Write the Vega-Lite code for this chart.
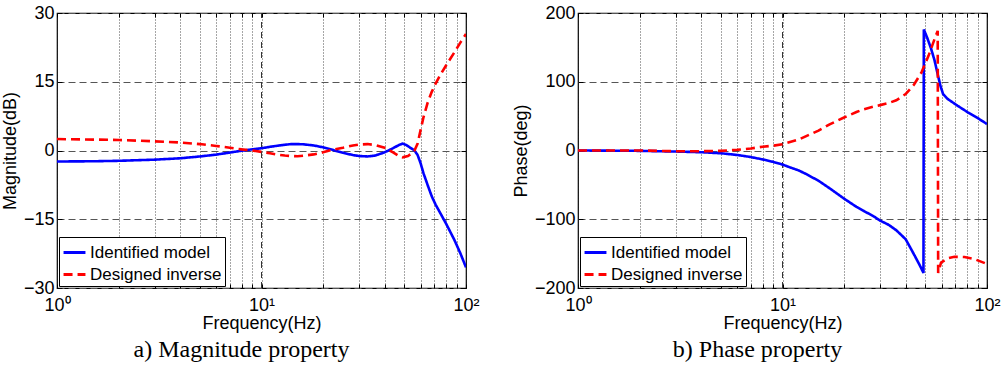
{
  "$schema": "https://vega.github.io/schema/vega-lite/v6.json",
  "background": "white",
  "padding": {"left": 0, "right": 6, "top": 3, "bottom": 0},
  "bounds": "flush",
  "spacing": 112,
  "config": {
    "font": "Liberation Sans",
    "view": {"stroke": "black", "strokeWidth": 1.2},
    "axis": {
      "domain": false,
      "labelColor": "black",
      "titleColor": "black",
      "labelFontSize": 18,
      "titleFontSize": 18,
      "titleFontWeight": "normal",
      "tickColor": "black",
      "tickSize": -5,
      "labelPadding": 8
    },
    "legend": {
      "orient": "bottom-left",
      "offset": 2,
      "strokeColor": "black",
      "fillColor": "white",
      "padding": 3,
      "title": null,
      "labelFontSize": 17,
      "labelColor": "black",
      "labelOffset": 3,
      "symbolType": "stroke",
      "symbolSize": 480,
      "symbolStrokeWidth": 3,
      "rowPadding": 1
    },
    "title": {
      "orient": "bottom",
      "font": "Liberation Serif",
      "fontSize": 24,
      "fontWeight": "normal",
      "color": "black",
      "offset": 6
    }
  },
  "datasets": {
    "magnitude": [
      {"f": 1, "v": -2.4, "series": "Identified model"},
      {"f": 1.5, "v": -2.35, "series": "Identified model"},
      {"f": 2, "v": -2.25, "series": "Identified model"},
      {"f": 3, "v": -2.0, "series": "Identified model"},
      {"f": 4, "v": -1.7, "series": "Identified model"},
      {"f": 5, "v": -1.3, "series": "Identified model"},
      {"f": 6, "v": -0.9, "series": "Identified model"},
      {"f": 7, "v": -0.45, "series": "Identified model"},
      {"f": 8, "v": -0.05, "series": "Identified model"},
      {"f": 9, "v": 0.25, "series": "Identified model"},
      {"f": 10, "v": 0.5, "series": "Identified model"},
      {"f": 11, "v": 0.8, "series": "Identified model"},
      {"f": 12, "v": 1.05, "series": "Identified model"},
      {"f": 13, "v": 1.25, "series": "Identified model"},
      {"f": 14, "v": 1.4, "series": "Identified model"},
      {"f": 15, "v": 1.4, "series": "Identified model"},
      {"f": 16, "v": 1.35, "series": "Identified model"},
      {"f": 18, "v": 1.1, "series": "Identified model"},
      {"f": 20, "v": 0.7, "series": "Identified model"},
      {"f": 22, "v": 0.2, "series": "Identified model"},
      {"f": 25, "v": -0.5, "series": "Identified model"},
      {"f": 28, "v": -1.0, "series": "Identified model"},
      {"f": 30, "v": -1.2, "series": "Identified model"},
      {"f": 33, "v": -1.3, "series": "Identified model"},
      {"f": 36, "v": -1.1, "series": "Identified model"},
      {"f": 40, "v": -0.4, "series": "Identified model"},
      {"f": 44, "v": 0.5, "series": "Identified model"},
      {"f": 47, "v": 1.2, "series": "Identified model"},
      {"f": 49, "v": 1.5, "series": "Identified model"},
      {"f": 51, "v": 1.2, "series": "Identified model"},
      {"f": 53, "v": 0.7, "series": "Identified model"},
      {"f": 56, "v": 0.0, "series": "Identified model"},
      {"f": 58, "v": -1.0, "series": "Identified model"},
      {"f": 60, "v": -2.8, "series": "Identified model"},
      {"f": 62, "v": -5.0, "series": "Identified model"},
      {"f": 65, "v": -7.6, "series": "Identified model"},
      {"f": 68, "v": -10.0, "series": "Identified model"},
      {"f": 71, "v": -11.8, "series": "Identified model"},
      {"f": 75.6, "v": -14.0, "series": "Identified model"},
      {"f": 80, "v": -16.0, "series": "Identified model"},
      {"f": 87.7, "v": -19.5, "series": "Identified model"},
      {"f": 94, "v": -22.5, "series": "Identified model"},
      {"f": 100, "v": -25.5, "series": "Identified model"},
      {"f": 1, "v": 2.5, "series": "Designed inverse"},
      {"f": 2, "v": 2.3, "series": "Designed inverse"},
      {"f": 3, "v": 2.0, "series": "Designed inverse"},
      {"f": 4, "v": 1.75, "series": "Designed inverse"},
      {"f": 5, "v": 1.4, "series": "Designed inverse"},
      {"f": 6, "v": 1.0, "series": "Designed inverse"},
      {"f": 7, "v": 0.6, "series": "Designed inverse"},
      {"f": 8, "v": 0.25, "series": "Designed inverse"},
      {"f": 9, "v": 0.0, "series": "Designed inverse"},
      {"f": 10, "v": -0.3, "series": "Designed inverse"},
      {"f": 11, "v": -0.6, "series": "Designed inverse"},
      {"f": 12, "v": -0.9, "series": "Designed inverse"},
      {"f": 13, "v": -1.1, "series": "Designed inverse"},
      {"f": 14, "v": -1.2, "series": "Designed inverse"},
      {"f": 15, "v": -1.25, "series": "Designed inverse"},
      {"f": 16, "v": -1.15, "series": "Designed inverse"},
      {"f": 18, "v": -0.85, "series": "Designed inverse"},
      {"f": 20, "v": -0.4, "series": "Designed inverse"},
      {"f": 22, "v": 0.1, "series": "Designed inverse"},
      {"f": 25, "v": 0.6, "series": "Designed inverse"},
      {"f": 28, "v": 1.1, "series": "Designed inverse"},
      {"f": 30, "v": 1.3, "series": "Designed inverse"},
      {"f": 33, "v": 1.4, "series": "Designed inverse"},
      {"f": 36, "v": 1.2, "series": "Designed inverse"},
      {"f": 40, "v": 0.6, "series": "Designed inverse"},
      {"f": 44, "v": -0.4, "series": "Designed inverse"},
      {"f": 47, "v": -1.2, "series": "Designed inverse"},
      {"f": 49, "v": -1.5, "series": "Designed inverse"},
      {"f": 52, "v": -1.2, "series": "Designed inverse"},
      {"f": 54, "v": -0.7, "series": "Designed inverse"},
      {"f": 56, "v": 0.0, "series": "Designed inverse"},
      {"f": 58, "v": 1.5, "series": "Designed inverse"},
      {"f": 60, "v": 4.5, "series": "Designed inverse"},
      {"f": 62, "v": 7.3, "series": "Designed inverse"},
      {"f": 65, "v": 10.5, "series": "Designed inverse"},
      {"f": 68, "v": 12.8, "series": "Designed inverse"},
      {"f": 71, "v": 14.6, "series": "Designed inverse"},
      {"f": 75.6, "v": 16.8, "series": "Designed inverse"},
      {"f": 80, "v": 18.6, "series": "Designed inverse"},
      {"f": 87.7, "v": 21.4, "series": "Designed inverse"},
      {"f": 94, "v": 23.6, "series": "Designed inverse"},
      {"f": 100, "v": 25.4, "series": "Designed inverse"}
    ],
    "phase": [
      {"f": 1, "v": 0, "series": "Identified model"},
      {"f": 2, "v": -0.5, "series": "Identified model"},
      {"f": 3, "v": -1.5, "series": "Identified model"},
      {"f": 4, "v": -2.5, "series": "Identified model"},
      {"f": 5, "v": -4, "series": "Identified model"},
      {"f": 6, "v": -6.5, "series": "Identified model"},
      {"f": 7, "v": -9.5, "series": "Identified model"},
      {"f": 8, "v": -13, "series": "Identified model"},
      {"f": 9, "v": -16.5, "series": "Identified model"},
      {"f": 10, "v": -20.5, "series": "Identified model"},
      {"f": 11, "v": -25, "series": "Identified model"},
      {"f": 12, "v": -29, "series": "Identified model"},
      {"f": 13, "v": -34, "series": "Identified model"},
      {"f": 15, "v": -44, "series": "Identified model"},
      {"f": 17, "v": -55, "series": "Identified model"},
      {"f": 20, "v": -70, "series": "Identified model"},
      {"f": 23, "v": -82, "series": "Identified model"},
      {"f": 25, "v": -88, "series": "Identified model"},
      {"f": 28, "v": -96, "series": "Identified model"},
      {"f": 30, "v": -102, "series": "Identified model"},
      {"f": 33, "v": -108, "series": "Identified model"},
      {"f": 36, "v": -116, "series": "Identified model"},
      {"f": 40, "v": -129, "series": "Identified model"},
      {"f": 44.3, "v": -153, "series": "Identified model"},
      {"f": 46.9, "v": -167, "series": "Identified model"},
      {"f": 48.9, "v": -178, "series": "Identified model"},
      {"f": 49.1, "v": 176, "series": "Identified model"},
      {"f": 51, "v": 164, "series": "Identified model"},
      {"f": 53.3, "v": 148, "series": "Identified model"},
      {"f": 55.4, "v": 131, "series": "Identified model"},
      {"f": 57.4, "v": 111, "series": "Identified model"},
      {"f": 59.2, "v": 94, "series": "Identified model"},
      {"f": 61, "v": 82, "series": "Identified model"},
      {"f": 64.2, "v": 75, "series": "Identified model"},
      {"f": 71.9, "v": 65, "series": "Identified model"},
      {"f": 80.5, "v": 55.6, "series": "Identified model"},
      {"f": 90.2, "v": 47, "series": "Identified model"},
      {"f": 100, "v": 38.5, "series": "Identified model"},
      {"f": 1, "v": 0, "series": "Designed inverse"},
      {"f": 2, "v": 0, "series": "Designed inverse"},
      {"f": 3, "v": -1, "series": "Designed inverse"},
      {"f": 4, "v": -1, "series": "Designed inverse"},
      {"f": 5, "v": -0.5, "series": "Designed inverse"},
      {"f": 6, "v": 1, "series": "Designed inverse"},
      {"f": 7, "v": 3, "series": "Designed inverse"},
      {"f": 8, "v": 5.5, "series": "Designed inverse"},
      {"f": 9, "v": 7, "series": "Designed inverse"},
      {"f": 10, "v": 9, "series": "Designed inverse"},
      {"f": 12, "v": 16, "series": "Designed inverse"},
      {"f": 15, "v": 29, "series": "Designed inverse"},
      {"f": 17, "v": 38, "series": "Designed inverse"},
      {"f": 20, "v": 48, "series": "Designed inverse"},
      {"f": 23, "v": 56, "series": "Designed inverse"},
      {"f": 25, "v": 60, "series": "Designed inverse"},
      {"f": 28, "v": 64, "series": "Designed inverse"},
      {"f": 30, "v": 66, "series": "Designed inverse"},
      {"f": 33, "v": 69, "series": "Designed inverse"},
      {"f": 36, "v": 73, "series": "Designed inverse"},
      {"f": 40, "v": 82, "series": "Designed inverse"},
      {"f": 44, "v": 96, "series": "Designed inverse"},
      {"f": 47.9, "v": 114, "series": "Designed inverse"},
      {"f": 51.8, "v": 138, "series": "Designed inverse"},
      {"f": 55.4, "v": 162, "series": "Designed inverse"},
      {"f": 57.4, "v": 174, "series": "Designed inverse"},
      {"f": 57.7, "v": -178, "series": "Designed inverse"},
      {"f": 59.6, "v": -163, "series": "Designed inverse"},
      {"f": 64.2, "v": -157, "series": "Designed inverse"},
      {"f": 69.3, "v": -154.5, "series": "Designed inverse"},
      {"f": 77.6, "v": -155, "series": "Designed inverse"},
      {"f": 86.8, "v": -158, "series": "Designed inverse"},
      {"f": 100, "v": -165, "series": "Designed inverse"}
    ]
  },
  "resolve": {
    "scale": {"y": "independent"},
    "legend": {"color": "independent", "strokeDash": "independent"}
  },
  "hconcat": [
    {
      "width": 409,
      "height": 275,
      "title": {"text": "a) Magnitude property", "dx": -20},
      "data": {"name": "magnitude"},
      "layer": [
        {
          "mark": {"type": "rule", "color": "#333", "strokeWidth": 1, "strokeDash": [6, 4]},
          "encoding": {
            "x": {"datum": 10, "type": "quantitative", "scale": {"type": "log", "domain": [1, 100], "nice": false},
              "axis": {"orient": "top", "values": [1, 2, 3, 4, 5, 6, 7, 8, 9, 10, 20, 30, 40, 50, 60, 70, 80, 90, 100], "labels": false, "grid": false, "tickSize": -4, "title": null}},
            "y": {"datum": -30, "type": "quantitative", "scale": {"domain": [-30, 30], "nice": false},
              "axis": {"orient": "right", "values": [-30, -15, 0, 15, 30], "labels": false, "grid": false, "tickSize": -5, "title": null}},
            "y2": {"datum": 30}
          }
        },
        {
          "mark": {"type": "line", "strokeWidth": 2.6, "clip": true},
          "encoding": {
            "x": {"field": "f", "type": "quantitative", "title": "Frequency(Hz)",
              "scale": {"type": "log", "domain": [1, 100], "nice": false},
              "axis": {
                "orient": "bottom",
                "values": [1, 2, 3, 4, 5, 6, 7, 8, 9, 10, 20, 30, 40, 50, 60, 70, 80, 90, 100],
                "labelExpr": "datum.value == 1 ? '10⁰' : datum.value == 10 ? '10¹' : datum.value == 100 ? '10²' : ''",
                "grid": true, "gridColor": "#222", "gridDash": [1, 2], "gridWidth": 1, "gridOpacity": 0.8,
                "tickSize": -4, "labelPadding": 12, "titlePadding": 0, "labelFlush": false
              }},
            "y": {"field": "v", "type": "quantitative", "title": "Magnitude(dB)",
              "scale": {"domain": [-30, 30], "nice": false},
              "axis": {"orient": "left", "values": [-30, -15, 0, 15, 30], "grid": true, "gridColor": "#555", "gridDash": [7, 4], "gridWidth": 1, "titlePadding": 4, "labelFlush": false}},
            "color": {"field": "series", "type": "nominal", "sort": ["Identified model", "Designed inverse"],
              "scale": {"domain": ["Identified model", "Designed inverse"], "range": ["#0000ff", "#ff0000"]}},
            "strokeDash": {"field": "series", "type": "nominal", "sort": ["Identified model", "Designed inverse"],
              "scale": {"domain": ["Identified model", "Designed inverse"], "range": [[1, 0], [9, 5]]}}
          }
        }
      ],
      "resolve": {"axis": {"x": "independent", "y": "independent"}}
    },
    {
      "width": 409,
      "height": 275,
      "title": {"text": "b) Phase property", "dx": -25},
      "data": {"name": "phase"},
      "layer": [
        {
          "mark": {"type": "rule", "color": "#333", "strokeWidth": 1, "strokeDash": [6, 4]},
          "encoding": {
            "x": {"datum": 10, "type": "quantitative", "scale": {"type": "log", "domain": [1, 100], "nice": false},
              "axis": {"orient": "top", "values": [1, 2, 3, 4, 5, 6, 7, 8, 9, 10, 20, 30, 40, 50, 60, 70, 80, 90, 100], "labels": false, "grid": false, "tickSize": -4, "title": null}},
            "y": {"datum": -200, "type": "quantitative", "scale": {"domain": [-200, 200], "nice": false},
              "axis": {"orient": "right", "values": [-200, -100, 0, 100, 200], "labels": false, "grid": false, "tickSize": -5, "title": null}},
            "y2": {"datum": 200}
          }
        },
        {
          "mark": {"type": "line", "strokeWidth": 2.6, "clip": true},
          "encoding": {
            "x": {"field": "f", "type": "quantitative", "title": "Frequency(Hz)",
              "scale": {"type": "log", "domain": [1, 100], "nice": false},
              "axis": {
                "orient": "bottom",
                "values": [1, 2, 3, 4, 5, 6, 7, 8, 9, 10, 20, 30, 40, 50, 60, 70, 80, 90, 100],
                "labelExpr": "datum.value == 1 ? '10⁰' : datum.value == 10 ? '10¹' : datum.value == 100 ? '10²' : ''",
                "grid": true, "gridColor": "#222", "gridDash": [1, 2], "gridWidth": 1, "gridOpacity": 0.8,
                "tickSize": -4, "labelPadding": 12, "titlePadding": 0, "labelFlush": false
              }},
            "y": {"field": "v", "type": "quantitative", "title": "Phase(deg)",
              "scale": {"domain": [-200, 200], "nice": false},
              "axis": {"orient": "left", "values": [-200, -100, 0, 100, 200], "grid": true, "gridColor": "#555", "gridDash": [7, 4], "gridWidth": 1, "titlePadding": 4, "labelFlush": false}},
            "color": {"field": "series", "type": "nominal", "sort": ["Identified model", "Designed inverse"],
              "scale": {"domain": ["Identified model", "Designed inverse"], "range": ["#0000ff", "#ff0000"]}},
            "strokeDash": {"field": "series", "type": "nominal", "sort": ["Identified model", "Designed inverse"],
              "scale": {"domain": ["Identified model", "Designed inverse"], "range": [[1, 0], [9, 5]]}}
          }
        }
      ],
      "resolve": {"axis": {"x": "independent", "y": "independent"}}
    }
  ]
}
